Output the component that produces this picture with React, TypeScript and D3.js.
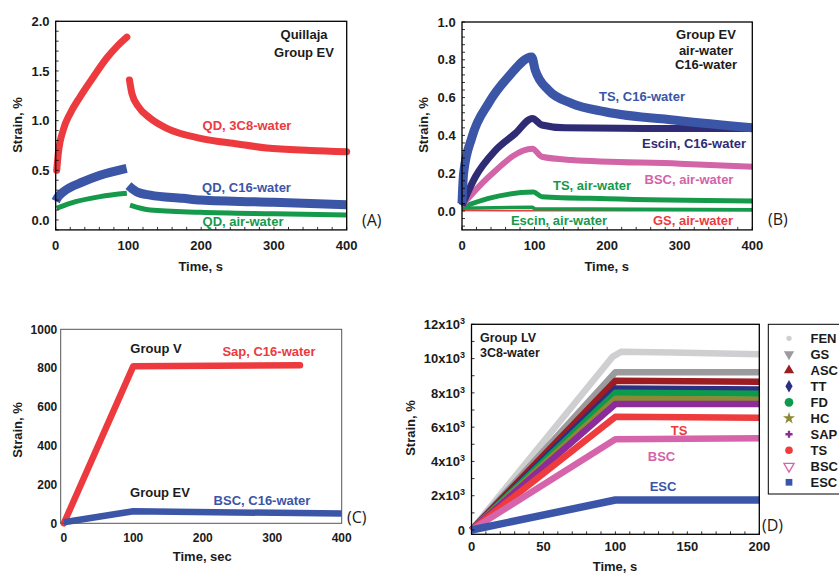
import React from 'react';
import * as d3 from 'd3';

type Pt = [number, number];

// ---- (A) Quillaja, group EV  [time s, strain %]
const qd3c8Rise: Pt[] = [[1.4, 0.5], [3.6, 0.67], [10.5, 0.91], [19.7, 1.07], [33.5, 1.24], [51.8, 1.44], [70.2, 1.63], [84, 1.745], [97.8, 1.84]];
const qd3c8Fall: Pt[] = [[101.4, 1.41], [104.7, 1.275], [113.8, 1.14], [129.9, 1.024], [152.8, 0.923], [198.8, 0.822], [250, 0.765], [290, 0.725], [350, 0.7], [400, 0.687]];
const qdC16Rise: Pt[] = [[0, 0.19], [3, 0.23], [10, 0.28], [38, 0.385], [61, 0.45], [97.5, 0.52]];
const qdC16Fall: Pt[] = [[100, 0.345], [111, 0.285], [130, 0.25], [175, 0.218], [199, 0.2], [300, 0.178], [400, 0.152]];
const qdAirRise: Pt[] = [[1.4, 0.118], [19.7, 0.168], [60.9, 0.235], [97.8, 0.268]];
const qdAirFall: Pt[] = [[102.2, 0.15], [129.9, 0.1], [198.8, 0.077], [300, 0.062], [400, 0.05]];

// ---- (B) group EV, air-water and C16-water
const tsC16: Pt[] = [[0, 0.04], [2.2, 0.2], [13.7, 0.39], [36.6, 0.57], [64, 0.71], [96, 0.815], [100.9, 0.745], [119, 0.64], [151, 0.57], [197, 0.525], [300, 0.478], [400, 0.44]];
const escinC16: Pt[] = [[0, 0.03], [18.3, 0.18], [45.8, 0.32], [73.4, 0.41], [97, 0.49], [110, 0.455], [142, 0.44], [250, 0.437], [400, 0.437]];
const bscAir: Pt[] = [[0, 0.03], [36.6, 0.18], [97, 0.33], [110, 0.287], [151, 0.27], [300, 0.25], [400, 0.234]];
const tsAir: Pt[] = [[0, 0.02], [36.6, 0.067], [98.6, 0.1], [110, 0.076], [200, 0.065], [400, 0.053]];
const escinAir: Pt[] = [[0, 0.015], [97, 0.02], [100, 0.012], [400, 0.006]];
const gsAir: Pt[] = [[0, 0.002], [400, 0.001]];

// ---- (C) group V vs group EV, C16-water
const sapC16: Pt[] = [[0, 0], [100, 810], [340, 815]];
const bscC16: Pt[] = [[0, 5], [100, 62], [400, 50]];

// ---- (D) group LV, 3C8-water
const lvNames = ['FEN', 'GS', 'ASC', 'TT', 'FD', 'HC', 'SAP', 'TS', 'BSC', 'ESC'];
const lvSeries: Pt[][] = [
  [[0, 0], [98, 10100], [104, 10400], [140, 10350], [200, 10250]],
  [[0, 0], [100, 9200], [200, 9200]],
  [[0, 0], [100, 8700], [200, 8650]],
  [[0, 0], [100, 8250], [200, 8200]],
  [[0, 0], [100, 8000], [200, 7950]],
  [[0, 0], [100, 7650], [200, 7600]],
  [[0, 0], [100, 7350], [200, 7350]],
  [[0, 0], [100, 6600], [200, 6550]],
  [[0, 0], [100, 5300], [200, 5350]],
  [[0, 0], [100, 1750], [200, 1750]],
];
const lvColors = ['#cfcfd1', '#9b9b9e', '#9c1c22', '#2d2f86', '#0c9a4c', '#8c8a34', '#8b2c98', '#ee3b3d', '#d564ab', '#3b56a8'];
const lvSymbols = [d3.symbolCircle, d3.symbolTriangle, d3.symbolTriangle, d3.symbolDiamond, d3.symbolCircle, d3.symbolStar, d3.symbolCross, d3.symbolCircle, d3.symbolTriangle, d3.symbolSquare];

// ticks
const aYTicks = [0, 0.5, 1.0, 1.5, 2.0];
const bYTicks = [0, 0.2, 0.4, 0.6, 0.8, 1.0];
const sTicks = [0, 100, 200, 300, 400];
const cYTicks = [0, 200, 400, 600, 800, 1000];
const dXTicks = [0, 50, 100, 150, 200];
const dYTicks = [0, 2000, 4000, 6000, 8000, 10000, 12000];
const dYLabels = ['0', '2x10^3', '4x10^3', '6x10^3', '8x10^3', '10x10^3', '12x10^3'];

const FONT = '"Liberation Sans", Arial, Helvetica, sans-serif';
const RED = '#ec3a3e';
const BLUE = '#3b55a7';
const GREEN = '#15994b';
const NAVY = '#2f2b74';
const PINK = '#d264a8';
const INK = '#1b1b1b';

type Scale = d3.ScaleLinear<number, number>;

function range(a: number, b: number, step: number) {
  const out: number[] = [];
  for (let v = a; v <= b + 1e-9; v += step) out.push(+v.toFixed(6));
  return out;
}

function Label({ text }: { text: string }) {
  const [base, sup] = text.split('^');
  return (
    <>
      {base}
      {sup && <tspan dy={-5} fontSize={9}>{sup}</tspan>}
    </>
  );
}

interface AxesProps {
  x: Scale; y: Scale;
  xTicks: number[]; yTicks: number[];
  xMinor?: number[]; yMinor?: number[];
  xFmt: (v: number) => string; yLabels: string[];
  xLabelY: number; yLabelX: number;
  frame?: string; fontSize?: number;
}

function Axes({ x, y, xTicks, yTicks, xMinor = [], yMinor = [], xFmt, yLabels, xLabelY, yLabelX, frame = '#000', fontSize = 13 }: AxesProps) {
  const [x0, x1] = x.range();
  const [y0, y1] = y.range();
  return (
    <g fontFamily={FONT} fontWeight="bold" fill={INK}>
      {yMinor.map((v, i) => (
        <line key={'ym' + i} x1={x0} x2={x0 + 3} y1={y(v)} y2={y(v)} stroke="#000" strokeWidth={0.8} />
      ))}
      {xMinor.map((v, i) => (
        <line key={'xm' + i} x1={x(v)} x2={x(v)} y1={y0} y2={y0 - 3} stroke="#000" strokeWidth={0.8} />
      ))}
      {yTicks.map((v, i) => (
        <text key={'yl' + i} x={yLabelX} y={y(v)} dy="0.36em" textAnchor="end" fontSize={fontSize}>
          <Label text={yLabels[i]} />
        </text>
      ))}
      {xTicks.map((v, i) => (
        <text key={'xl' + i} x={x(v)} y={xLabelY} textAnchor="middle" fontSize={fontSize}>{xFmt(v)}</text>
      ))}
      <rect x={x0} y={y1} width={x1 - x0} height={y0 - y1} fill="none" stroke={frame} strokeWidth={frame === '#000' ? 1.3 : 1} />
    </g>
  );
}

function Curve({ data, x, y, color, width, cap = 'round', curve = d3.curveMonotoneX }: { data: Pt[]; x: Scale; y: Scale; color: string; width: number; cap?: 'round' | 'butt' | 'square'; curve?: d3.CurveFactory }) {
  const line = d3.line<Pt>().x(d => x(d[0])).y(d => y(d[1])).curve(curve);
  return <path d={line(data) || ''} fill="none" stroke={color} strokeWidth={width} strokeLinecap={cap} strokeLinejoin="round" />;
}

function Txt({ x, y, color = INK, size = 13, anchor = 'middle', children }: { x: number; y: number; color?: string; size?: number; anchor?: string; children: React.ReactNode }) {
  return (
    <text x={x} y={y} fill={color} fontSize={size} fontFamily={FONT} fontWeight="bold" textAnchor={anchor as any}>{children}</text>
  );
}

function Tag({ x, y, children }: { x: number; y: number; children: React.ReactNode }) {
  return <text x={x} y={y} fontSize={16} fontFamily='"Open Sans", "Noto Sans", sans-serif' fill={INK}>{children}</text>;
}

function YTitle({ x, y, text }: { x: number; y: number; text: string }) {
  return (
    <text transform={`translate(${x},${y}) rotate(-90)`} textAnchor="middle" fontSize={13} fontFamily={FONT} fontWeight="bold" fill={INK}>{text}</text>
  );
}

export default function App() {
  // panel scales
  const ax = d3.scaleLinear().domain([0, 400]).range([55.7, 346.7]);
  const ay = d3.scaleLinear().domain([-0.1, 2.0]).range([229.9, 21.3]);
  const bx = d3.scaleLinear().domain([0, 400]).range([462, 752.3]);
  const by = d3.scaleLinear().domain([-0.1, 1.0]).range([229.9, 22]);
  const cx = d3.scaleLinear().domain([-4.5, 400]).range([60.7, 341.7]);
  const cy = d3.scaleLinear().domain([0, 1000]).range([523.3, 329.3]);
  const dx = d3.scaleLinear().domain([0, 200]).range([471.5, 759.3]);
  const dy = d3.scaleLinear().domain([-250, 12000]).range([534.3, 324.3]);

  const fmt1 = (v: number) => v.toFixed(1);
  const fmt0 = (v: number) => String(v);
  const sym = (t: d3.SymbolType, s: number) => d3.symbol().type(t).size(s)() || '';

  return (
    <svg width={839} height={573} style={{ position: 'absolute', left: 0, top: 0, background: '#fff' }}>
      {/* (A) */}
      <Curve data={qd3c8Rise} x={ax} y={ay} color={RED} width={7} />
      <Curve data={qd3c8Fall} x={ax} y={ay} color={RED} width={7} />
      <Curve data={qdC16Rise} x={ax} y={ay} color={BLUE} width={9} cap="butt" />
      <Curve data={qdC16Fall} x={ax} y={ay} color={BLUE} width={9} cap="butt" />
      <Curve data={qdAirRise} x={ax} y={ay} color={GREEN} width={5} cap="butt" />
      <Curve data={qdAirFall} x={ax} y={ay} color={GREEN} width={5} cap="butt" />
      <Axes x={ax} y={ay} xTicks={sTicks} yTicks={aYTicks} xMinor={range(0, 400, 20)} yMinor={range(-0.1, 2.0, 0.1)}
        xFmt={fmt0} yLabels={aYTicks.map(fmt1)} xLabelY={250} yLabelX={49.5} />
      <Txt x={304} y={39}>Quillaja</Txt>
      <Txt x={304} y={57}>Group EV</Txt>
      <Txt x={247} y={130} color={RED}>QD, 3C8-water</Txt>
      <Txt x={246.5} y={192} color={BLUE}>QD, C16-water</Txt>
      <Txt x={243} y={226} color={GREEN}>QD, air-water</Txt>
      <Tag x={362} y={226}>(A)</Tag>
      <YTitle x={22} y={125} text="Strain, %" />
      <Txt x={200.7} y={271}>Time, s</Txt>

      {/* (B) */}
      <Curve data={gsAir} x={bx} y={by} color={RED} width={1.5} cap="butt" />
      <Curve data={escinAir} x={bx} y={by} color={GREEN} width={3.5} cap="butt" curve={d3.curveLinear} />
      <Curve data={tsAir} x={bx} y={by} color={GREEN} width={5} cap="butt" />
      <Curve data={bscAir} x={bx} y={by} color={PINK} width={6} cap="butt" />
      <Curve data={escinC16} x={bx} y={by} color={NAVY} width={7} cap="butt" />
      <Curve data={tsC16} x={bx} y={by} color={BLUE} width={9} cap="butt" />
      <Axes x={bx} y={by} xTicks={sTicks} yTicks={bYTicks} xMinor={range(0, 400, 20)} yMinor={range(-0.08, 1.0, 0.04)}
        xFmt={fmt0} yLabels={bYTicks.map(fmt1)} xLabelY={250} yLabelX={455.7} />
      <Txt x={706} y={39}>Group EV</Txt>
      <Txt x={706} y={55}>air-water</Txt>
      <Txt x={706} y={69}>C16-water</Txt>
      <Txt x={642} y={101} color={BLUE}>TS, C16-water</Txt>
      <Txt x={694} y={148} color={NAVY}>Escin, C16-water</Txt>
      <Txt x={689} y={184} color={PINK}>BSC, air-water</Txt>
      <Txt x={592} y={190} color={GREEN}>TS, air-water</Txt>
      <Txt x={559} y={225} color={GREEN}>Escin, air-water</Txt>
      <Txt x={693} y={225} color={RED}>GS, air-water</Txt>
      <Tag x={768} y={225}>(B)</Tag>
      <YTitle x={428} y={125} text="Strain, %" />
      <Txt x={606.7} y={271}>Time, s</Txt>

      {/* (C) */}
      <Curve data={sapC16} x={cx} y={cy} color={RED} width={6.5} curve={d3.curveLinear} />
      <Curve data={bscC16} x={cx} y={cy} color={BLUE} width={6.5} cap="butt" curve={d3.curveLinear} />
      <Axes x={cx} y={cy} xTicks={sTicks} yTicks={cYTicks} xFmt={fmt0} yLabels={cYTicks.map(fmt0)}
        xLabelY={542} yLabelX={57.3} frame="#555" fontSize={12} />
      <Txt x={156} y={353}>Group V</Txt>
      <Txt x={269} y={356} color={RED}>Sap, C16-water</Txt>
      <Txt x={160} y={497}>Group EV</Txt>
      <Txt x={262} y={505} color={BLUE}>BSC, C16-water</Txt>
      <Tag x={347} y={523}>(C)</Tag>
      <YTitle x={22} y={430} text="Strain, %" />
      <Txt x={202.3} y={561}>Time, sec</Txt>

      {/* (D) */}
      {lvSeries.map((s, i) => (
        <Curve key={lvNames[i]} data={s} x={dx} y={dy} color={lvColors[i]} width={i === 9 ? 7.5 : 6.5} cap="butt" curve={d3.curveLinear} />
      ))}
      <Axes x={dx} y={dy} xTicks={dXTicks} yTicks={dYTicks} xMinor={range(0, 200, 10)} yMinor={range(0, 12000, 1000)}
        xFmt={fmt0} yLabels={dYLabels} xLabelY={551} yLabelX={465} />
      <Txt x={480} y={342} anchor="start" size={12.5}>Group LV</Txt>
      <Txt x={480} y={357} anchor="start" size={12.5}>3C8-water</Txt>
      <Txt x={679} y={435} color={RED}>TS</Txt>
      <Txt x={661.5} y={461} color={PINK}>BSC</Txt>
      <Txt x={663} y={491} color={BLUE}>ESC</Txt>
      <Tag x={762} y={531}>(D)</Tag>
      <YTitle x={415} y={428} text="Strain, %" />
      <Txt x={615} y={571}>Time, s</Txt>

      <rect x={768.3} y={324.3} width={90} height={169.7} fill="#fff" stroke="#000" strokeWidth={1} />
      {lvNames.map((n, i) => {
        const yy = 338.3 + i * 16;
        const down = i === 1 || i === 8;
        const open = i === 8;
        const size = i === 0 ? 22 : i === 6 ? 28 : i === 4 ? 60 : 45;
        return (
          <g key={n}>
            <path d={sym(lvSymbols[i], size)} transform={`translate(789,${yy}) rotate(${down ? 180 : 0})`}
              fill={open ? 'none' : lvColors[i]} stroke={open ? lvColors[i] : 'none'} strokeWidth={1.3} />
            <Txt x={810.5} y={yy + 5} anchor="start">{n}</Txt>
          </g>
        );
      })}
    </svg>
  );
}
